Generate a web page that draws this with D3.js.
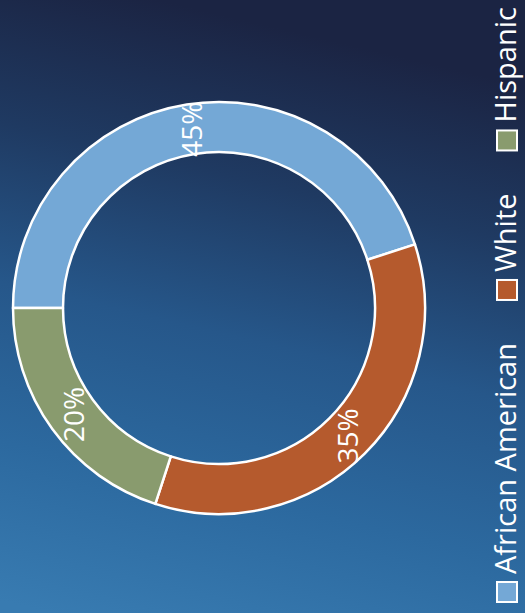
<!DOCTYPE html>
<html>
<head>
<meta charset="utf-8">
<script src="https://cdn.jsdelivr.net/npm/d3@7"></script>
<style>
  html, body { margin: 0; padding: 0; background: #24426b; }
  svg { display: block; }
</style>
</head>
<body>
<script>
// ---- data ----
const categories = ["African American", "White", "Hispanic"];
const values = [45, 35, 20];
const labels = ["45%", "35%", "20%"];
const colors = ["#74a8d6", "#b55a2d", "#899b6e"];

const W = 525, H = 613;
const svg = d3.select("body").append("svg").attr("width", W).attr("height", H);

// background gradient
const defs = svg.append("defs");
const grad = defs.append("linearGradient").attr("id", "bg")
  .attr("x1", "0.3").attr("y1", "0").attr("x2", "0.1").attr("y2", "1");
grad.append("stop").attr("offset", "0").attr("stop-color", "#1b2443");
grad.append("stop").attr("offset", "0.25").attr("stop-color", "#1f3a62");
grad.append("stop").attr("offset", "0.5").attr("stop-color", "#26578a");
grad.append("stop").attr("offset", "0.75").attr("stop-color", "#2c699f");
grad.append("stop").attr("offset", "1").attr("stop-color", "#387bb1");
svg.append("rect").attr("width", W).attr("height", H).attr("fill", "url(#bg)");

// donut
const cx = 219, cy = 308, outerR = 206, innerR = 156;
const pie = d3.pie().sort(null).startAngle(-Math.PI / 2).endAngle(3 * Math.PI / 2);
const arcs = pie(values);
const arc = d3.arc().innerRadius(innerR).outerRadius(outerR);

const g = svg.append("g").attr("transform", `translate(${cx},${cy})`);
g.selectAll("path.slice").data(arcs).join("path")
  .attr("class", "slice")
  .attr("d", arc)
  .attr("fill", (d, i) => colors[i])
  .attr("stroke", "#ffffff")
  .attr("stroke-width", 2.5)
  .attr("stroke-linejoin", "round");

g.selectAll("text.lbl").data(arcs).join("text")
  .attr("class", "lbl")
  .attr("transform", d => { const c = arc.centroid(d); return `translate(${c[0]},${c[1]}) rotate(-90)`; })
  .attr("text-anchor", "middle")
  .attr("dominant-baseline", "central")
  .attr("fill", "#ffffff")
  .attr("font-family", "'Open Sans', sans-serif")
  .attr("font-size", 28)
  .text((d, i) => labels[i]);

// legend (rotated, reads bottom to top)
const lg = svg.append("g").attr("transform", `translate(516,603) rotate(-90)`);
const sq = 22, gapText = 7, gapItem = 42;
let xoff = 0;
categories.forEach((c, i) => {
  const item = lg.append("g").attr("transform", `translate(${xoff},0)`);
  item.append("rect").attr("x", 1).attr("y", -sq + 3).attr("width", sq - 2).attr("height", sq - 2)
    .attr("fill", colors[i]).attr("stroke", "#ffffff").attr("stroke-width", 2);
  const t = item.append("text").attr("x", sq + gapText).attr("y", 0)
    .attr("fill", "#ffffff")
    .attr("font-family", "'Open Sans', sans-serif")
    .attr("font-size", 29)
    .text(c);
  xoff += sq + gapText + t.node().getComputedTextLength() + gapItem;
});
</script>
</body>
</html>
